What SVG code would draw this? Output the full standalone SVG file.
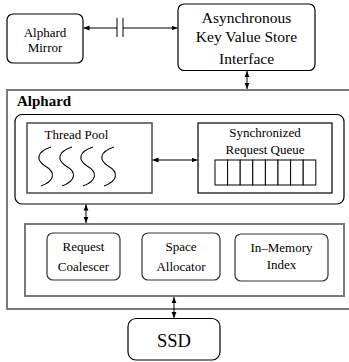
<svg xmlns="http://www.w3.org/2000/svg" width="349" height="362" viewBox="0 0 349 362">
  <defs>
    <marker id="ah" viewBox="0 0 6 6" refX="6" refY="3" markerWidth="6" markerHeight="6" markerUnits="userSpaceOnUse" orient="auto-start-reverse">
      <path d="M0,0.6 L6,3 L0,5.4 z" fill="#000"/>
    </marker>
  </defs>
  <style>
    .lbl { font-size: 13px; text-anchor: middle; }
    .big { font-size: 15.5px; text-anchor: middle; }
    .box { fill: #fff; stroke: #000; stroke-width: 1.2; }
    .grey { fill: none; stroke: #7a7a7a; stroke-width: 2; }
    .comp { fill: #fff; stroke: #333; stroke-width: 1.2; }
    .conn { fill: none; stroke: #000; stroke-width: 1; marker-start: url(#ah); marker-end: url(#ah); }
    .cell { fill: #fff; stroke: #000; stroke-width: 1; }
    .thread { fill: none; stroke: #000; stroke-width: 1.1; }
  </style>

  <g font-family="Liberation Serif, Times New Roman, DejaVu Serif, serif" fill="#000">

  <!-- Alphard enclosure (runs past the right edge) -->
  <g id="alphard">
    <rect class="grey" x="7" y="90" width="360" height="219"/>
    <text x="17" y="106" font-family="Liberation Serif, serif" font-size="15" font-weight="bold">Alphard</text>
  </g>

  <!-- upper section: thread pool + request queue -->
  <g id="upper-section">
    <rect class="box" x="15" y="114.5" width="329" height="89.5" rx="7"/>
  </g>

  <g id="thread-pool">
    <rect x="27" y="123" width="125" height="70" fill="#fff" stroke="#555" stroke-width="1.6"/>
    <text class="lbl" x="76.5" y="139">Thread Pool</text>
    <path class="thread" d="M51,147 C36,152 36,160 45,166 C56,172 55,181 41,186"/>
    <path class="thread" d="M72,147 C57,152 57,160 66,166 C77,172 76,181 62,186"/>
    <path class="thread" d="M93,147 C78,152 78,160 87,166 C98,172 97,181 83,186"/>
    <path class="thread" d="M114,147 C99,152 99,160 108,166 C119,172 118,181 104,186"/>
  </g>

  <g id="request-queue">
    <rect class="box" x="198" y="123" width="134" height="70"/>
    <text class="lbl" x="265" y="137">Synchronized</text>
    <text class="lbl" x="265" y="154">Request Queue</text>
    <rect class="cell" x="215" y="160" width="12.6" height="25"/>
    <rect class="cell" x="227.6" y="160" width="12.6" height="25"/>
    <rect class="cell" x="240.2" y="160" width="12.6" height="25"/>
    <rect class="cell" x="252.8" y="160" width="12.6" height="25"/>
    <rect class="cell" x="265.4" y="160" width="12.6" height="25"/>
    <rect class="cell" x="278" y="160" width="12.6" height="25"/>
    <rect class="cell" x="290.6" y="160" width="12.6" height="25"/>
    <rect class="cell" x="303.2" y="160" width="12.6" height="25"/>
  </g>

  <!-- lower section: storage components -->
  <g id="lower-section">
    <rect class="grey" x="25" y="224" width="319" height="72"/>
  </g>

  <g id="request-coalescer">
    <rect class="comp" x="47" y="233" width="73" height="47" rx="6"/>
    <text class="lbl" x="83.5" y="251">Request</text>
    <text class="lbl" x="83.5" y="270.5">Coalescer</text>
  </g>

  <g id="space-allocator">
    <rect class="comp" x="142" y="233" width="78" height="47" rx="6"/>
    <text class="lbl" x="181" y="251">Space</text>
    <text class="lbl" x="181" y="270.5">Allocator</text>
  </g>

  <g id="in-memory-index">
    <rect class="comp" x="235" y="234" width="93" height="47" rx="6"/>
    <text class="lbl" x="281.5" y="252">In–Memory</text>
    <text class="lbl" x="281.5" y="269">Index</text>
  </g>

  <g id="alphard-mirror">
    <rect class="box" x="7" y="14" width="76" height="49" rx="6"/>
    <text class="lbl" x="45" y="36.5">Alphard</text>
    <text class="lbl" x="45" y="52">Mirror</text>
  </g>

  <g id="kv-interface">
    <rect class="box" x="178" y="4" width="137" height="66.5" rx="6"/>
    <text class="big" x="246.5" y="22.5">Asynchronous</text>
    <text class="big" x="246.5" y="42">Key Value Store</text>
    <text class="big" x="246.5" y="64">Interface</text>
  </g>

  <g id="ssd">
    <rect class="box" x="128" y="318.5" width="92" height="41.5" rx="8"/>
    <text x="174" y="347" font-size="18.5" text-anchor="middle">SSD</text>
  </g>

  <!-- connectors -->
  <g id="connectors">
    <path class="conn" d="M83.5,28 H117" style="marker-end:none"/>
    <path class="conn" d="M123,28 H177.5" style="marker-start:none"/>
    <line x1="117" y1="18" x2="117" y2="37" stroke="#000" stroke-width="1"/>
    <line x1="123" y1="18" x2="123" y2="37" stroke="#000" stroke-width="1"/>
    <path class="conn" d="M247,71 V89"/>
    <path class="conn" d="M152.5,160 H197.5"/>
    <path class="conn" d="M86,204.5 V223"/>
    <path class="conn" d="M174,297 V318"/>
  </g>

  </g>
</svg>
